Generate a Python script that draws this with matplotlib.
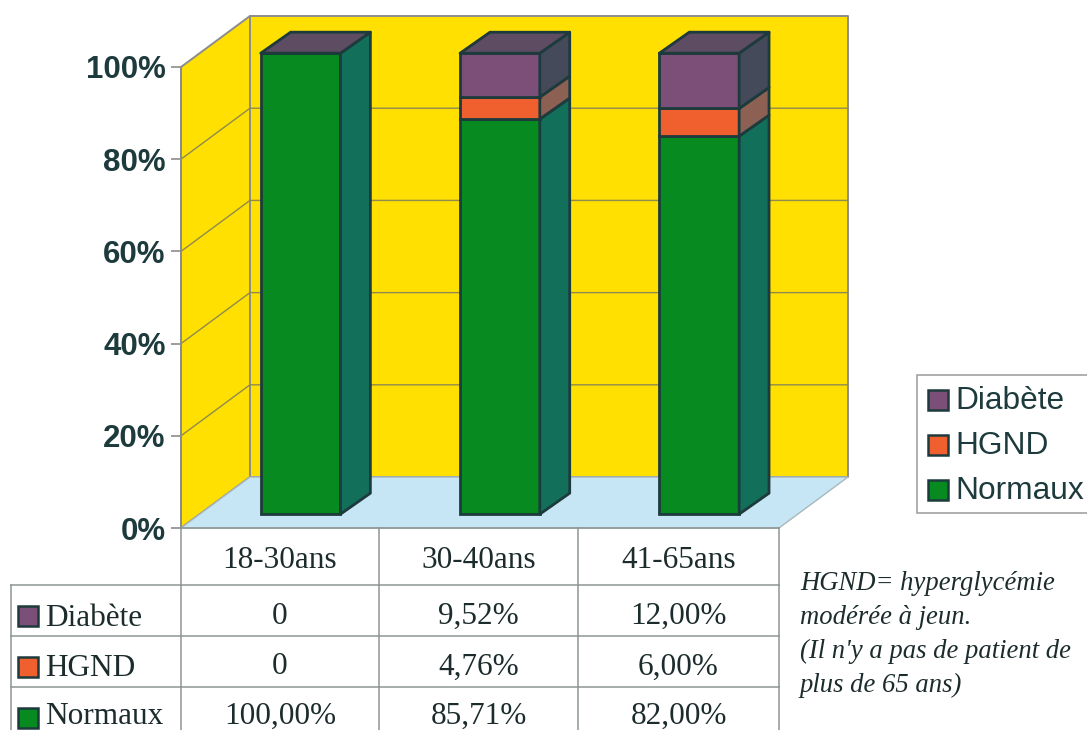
import matplotlib
matplotlib.use("Agg")
import matplotlib.pyplot as plt
from matplotlib.patches import Polygon, Rectangle

# age groups and stacked shares (%)
groups = ["18-30ans", "30-40ans", "41-65ans"]
normaux = [100.00, 85.71, 82.00]
hgnd = [0, 4.76, 6.00]
diabete = [0, 9.52, 12.00]
yticks = [0, 20, 40, 60, 80, 100]
series_names = ["Diabète", "HGND", "Normaux"]
note_lines = ["HGND= hyperglycémie", "modérée à jeun.",
              "(Il n'y a pas de patient de", "plus de 65 ans)"]

W, H = 1087, 730
YELLOW = "#ffe000"
FLOOR = "#c6e6f6"
WALL = "#8c8c8c"
GRID = "#8f8a50"
DARK = "#1d3a3c"
TXT = "#1c2b2c"

# colours: front, side
GREEN = ("#078a20", "#12705a")
ORANGE = ("#f0602e", "#8c6052")
PURPLE = ("#7c4f78", "#444a5a")
TOP = "#5d4c62"

# wall and bar depth, in data units
wall_dx, wall_dy = 0.346, 11.06
bar_off_x, bar_off_y = 0.10, 3.0
bar_dx, bar_dy = 0.15, 4.55
bar_w = 0.40

fig = plt.figure(figsize=(W / 100, H / 100), dpi=100, facecolor="white")
ax = fig.add_axes([181 / W, (H - 528) / H, 598 / W, 461 / H])
ax.set_xlim(0, 3)
ax.set_ylim(0, 100)
ax.patch.set_visible(False)
for name in ["top", "right", "bottom"]:
    ax.spines[name].set_visible(False)
ax.spines["left"].set_color(WALL)
ax.spines["left"].set_linewidth(1.4)
ax.spines["left"].set_zorder(1.5)


def poly(pts, fc, ec="none", lw=0, z=1):
    ax.add_patch(Polygon(pts, closed=True, facecolor=fc, edgecolor=ec,
                         linewidth=lw, zorder=z, clip_on=False,
                         joinstyle="round"))


# side wall, back wall, floor
poly([(0, 0), (0, 100), (wall_dx, 100 + wall_dy), (wall_dx, wall_dy)], YELLOW, WALL, 1.4)
poly([(wall_dx, wall_dy), (wall_dx, 100 + wall_dy), (3 + wall_dx, 100 + wall_dy),
      (3 + wall_dx, wall_dy)], YELLOW, WALL, 1.4)
poly([(0, 0), (wall_dx, wall_dy), (3 + wall_dx, wall_dy), (3, 0)], FLOOR, "#a9b8ba", 1.0)

# gridlines follow the walls
for t in yticks[1:-1]:
    ax.plot([0, wall_dx, 3 + wall_dx], [t, t + wall_dy, t + wall_dy],
            color=GRID, lw=1.0, zorder=1.2, clip_on=False)

# stacked bars with side faces and a top
for i in range(len(groups)):
    x0 = i + 0.5 + bar_off_x - bar_w / 2
    x1 = x0 + bar_w
    base = bar_off_y
    segs = [(normaux[i], GREEN), (hgnd[i], ORANGE), (diabete[i], PURPLE)]
    for val, (front, side) in segs:
        if val == 0:
            continue
        ax.bar(x0 + bar_w / 2, val, width=bar_w, bottom=base, color=front,
               edgecolor=DARK, linewidth=2.0, zorder=3, clip_on=False)
        poly([(x1, base), (x1, base + val), (x1 + bar_dx, base + val + bar_dy),
              (x1 + bar_dx, base + bar_dy)], side, DARK, 2.0, 3)
        base += val
    poly([(x0, base), (x1, base), (x1 + bar_dx, base + bar_dy),
          (x0 + bar_dx, base + bar_dy)], TOP, DARK, 2.0, 3)

ax.set_xticks([])
ax.set_yticks(yticks)
ax.set_yticklabels([f"{t}%" for t in yticks], family="Liberation Sans",
                   weight="bold", fontsize=22.5, color=DARK)
ax.tick_params(axis="y", length=7, width=1.2, color=WALL, pad=4)

# overlay in pixel units for the data table, legend and note
ov = fig.add_axes([0, 0, 1, 1])
ov.set_xlim(0, W)
ov.set_ylim(H, 0)
ov.axis("off")
ov.patch.set_visible(False)

LINE = "#8e9494"
col_x = [181, 379, 578, 779]
row_y = [528, 585, 636, 687]
for x in col_x:
    ov.plot([x, x], [528, H], color=LINE, lw=1.1)
ov.plot([11, 11], [585, H], color=LINE, lw=1.1)
ov.plot([181, 779], [528, 528], color=LINE, lw=1.1)
for y in row_y[1:]:
    ov.plot([11, 779], [y, y], color=LINE, lw=1.1)


def fmt(v):
    return "0" if v == 0 else f"{v:.2f}%".replace(".", ",")


serif = dict(family="Liberation Serif", fontsize=22.5, color=TXT, va="center")
for j, g in enumerate(groups):
    cx = (col_x[j] + col_x[j + 1]) / 2
    ov.text(cx, 560, g, ha="center", **serif)
    ov.text(cx, 616, fmt(diabete[j]), ha="center", **serif)
    ov.text(cx, 667, fmt(hgnd[j]), ha="center", **serif)
    ov.text(cx, 716, fmt(normaux[j]), ha="center", **serif)

key_colors = [PURPLE[0], ORANGE[0], GREEN[0]]
for name, col, y, ty in zip(series_names, key_colors, [616, 667, 718], [618, 669, 716]):
    ov.add_patch(Rectangle((18, y - 10), 20, 20, facecolor=col, edgecolor=DARK, lw=1.8))
    ov.text(45, ty, name, ha="left", **serif)

for k, line in enumerate(note_lines):
    ov.text(800, 583 + 34 * k, line, family="Liberation Serif", style="italic",
            fontsize=19.2, color=TXT, va="center", ha="left")

# legend box at the right
ov.add_patch(Rectangle((917, 375), 180, 138, facecolor="white", edgecolor="#9a9a9a", lw=1.1))
for name, col, y in zip(series_names, key_colors, [400, 445, 490]):
    ov.add_patch(Rectangle((928, y - 10), 20, 20, facecolor=col, edgecolor=DARK, lw=1.8))
    ov.text(955, y + 1, name, family="Liberation Sans", fontsize=22.8, color=DARK,
            va="center", ha="left")

fig.savefig("out.png", dpi=100, facecolor="white")
